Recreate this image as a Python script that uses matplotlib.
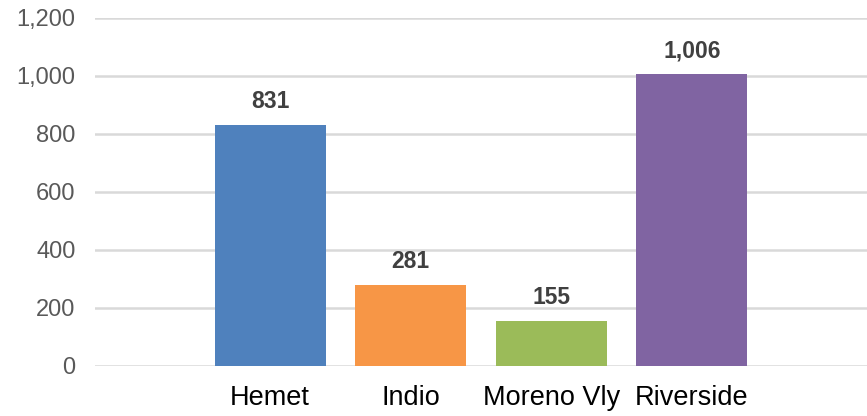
import matplotlib
matplotlib.use('Agg')
import matplotlib.pyplot as plt

plt.rcParams['font.family'] = ['Liberation Sans', 'DejaVu Sans']

cities = ['Hemet', 'Indio', 'Moreno Vly', 'Riverside']
counts = [831, 281, 155, 1006]
colors = ['#4F81BD', '#F79646', '#9BBB59', '#8064A2']
yticks = [0, 200, 400, 600, 800, 1000, 1200]

fig = plt.figure(figsize=(8.67, 4.16), dpi=100)
ax = fig.add_axes([95 / 867, 50 / 416, 772 / 867, 348 / 416])

x = range(len(cities))
bars = ax.bar(x, counts, width=0.79, color=colors, zorder=3)

for b, v in zip(bars, counts):
    ax.text(b.get_x() + b.get_width() / 2, v + 40, f'{v:,}', ha='center', va='bottom',
            fontsize=16.5, fontweight='bold', color='#404040')

ax.set_xlim(-1.245, 4.245)
ax.set_ylim(0, 1200)
ax.set_yticks(yticks)
ax.set_yticklabels([f'{t:,}' for t in yticks], fontsize=17, color='#595959')
ax.set_xticks(list(x))
ax.set_xticklabels(cities, fontsize=19.5, color='black')
ax.tick_params(axis='both', length=0)
ax.tick_params(axis='y', pad=14)
ax.tick_params(axis='x', pad=14)
ax.grid(axis='y', color='#d9d9d9', linewidth=1.8, zorder=0)
for s in ax.spines.values():
    s.set_visible(False)

fig.savefig('out.png', dpi=100)
